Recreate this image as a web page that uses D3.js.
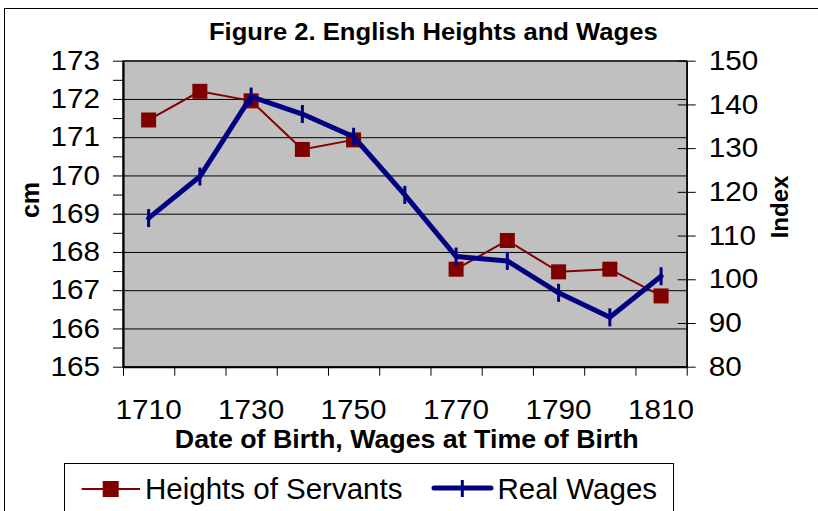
<!DOCTYPE html>
<html>
<head>
<meta charset="utf-8">
<script src="https://cdnjs.cloudflare.com/ajax/libs/d3/7.8.5/d3.min.js"></script>
<style>
    body { margin: 0; background: #fff; }
    svg text { font-family: "Liberation Sans", Arial, sans-serif; fill: #000; }
</style>
</head>
<body>
<div id="chart"></div>
<script>
/* *******************************************************
   Data
******************************************************* */
const years = ["1710", "1720", "1730", "1740", "1750", "1760", "1770", "1780", "1790", "1800", "1810"];
const yearLabels = ["1710", "1730", "1750", "1770", "1790", "1810"];
// heights of servants, cm (no value for 1760)
const heights = [171.45, 172.2, 171.95, 170.68, 170.93, null, 167.55, 168.3, 167.48, 167.55, 166.85];
// real wages, index
const wages = [114, 123.5, 141.8, 137.8, 132.6, 119.3, 105.2, 104.2, 96.9, 91.3, 100.7];
const cmTicks = [165, 166, 167, 168, 169, 170, 171, 172, 173];
const indexTicks = [80, 90, 100, 110, 120, 130, 140, 150];
const seriesNames = ["Heights of Servants", "Real Wages"];

/* *******************************************************
   Chart size / plot area
******************************************************* */
let width = 818;
let height = 511;
var plot = { left: 123, top: 60.7, right: 686.7, bottom: 366.7 };
var plotW = plot.right - plot.left;
var plotH = plot.bottom - plot.top;

const red = "#800000";
const navy = "#000080";
// text in the original is drawn a bit wider than Arial
const tickSx = 1.1;

let svg = d3.select("#chart").append("svg")
    .attr("width", width).attr("height", height);

// outer chart frame (runs off the right and bottom)
svg.append("rect")
    .attr("x", 4.5).attr("y", 8.5)
    .attr("width", 900).attr("height", 600)
    .attr("fill", "#fff").attr("stroke", "#000");

// scales
var xBand = d3.scaleBand().domain(years).range([plot.left, plot.right]).padding(0);
var xEdge = d3.scaleLinear().domain([0, years.length]).range([plot.left, plot.right]);
var yLeft = d3.scaleLinear().domain([d3.min(cmTicks), d3.max(cmTicks)]).range([plot.bottom, plot.top]);
var yRight = d3.scaleLinear().domain([d3.min(indexTicks), d3.max(indexTicks)]).range([plot.bottom, plot.top]);
var cx = d => xBand(d) + xBand.bandwidth() / 2;

// plot background
svg.append("rect")
    .attr("x", plot.left).attr("y", plot.top)
    .attr("width", plotW).attr("height", plotH)
    .attr("fill", "#c0c0c0").attr("stroke", "#222").attr("stroke-width", 1);

// gridlines
svg.append("g")
    .attr("transform", `translate(${plot.left},0)`)
    .call(d3.axisLeft(yLeft).tickValues(cmTicks).tickSize(-plotW).tickFormat(""))
    .call(g => g.select(".domain").remove())
    .call(g => g.selectAll(".tick line").attr("stroke", "#000").attr("stroke-width", 1));

/* =======================================================
    Axes
======================================================= */
// left axis: minor ticks each half cm, labels on whole cm
var halfTicks = d3.range(cmTicks[0], cmTicks[cmTicks.length - 1] + 0.01, 0.5);
svg.append("g")
    .attr("transform", `translate(${plot.left},0)`)
    .call(d3.axisLeft(yLeft).tickValues(halfTicks).tickSize(10).tickSizeOuter(0)
        .tickFormat(d => Number.isInteger(d) ? d : ""))
    .call(g => g.select(".domain").attr("stroke-width", 2.2))
    .call(g => g.selectAll(".tick line").attr("stroke", "#000"))
    .call(g => g.selectAll(".tick text")
        .attr("font-size", 27).attr("x", -23 / tickSx)
        .attr("transform", `scale(${tickSx},1)`));

// right axis: ticks cross the axis line
svg.append("g")
    .attr("transform", `translate(${plot.right},0)`)
    .call(d3.axisRight(yRight).tickValues(indexTicks).tickSizeOuter(0))
    .call(g => g.select(".domain").attr("stroke-width", 1.5))
    .call(g => g.selectAll(".tick line").attr("x1", -9).attr("x2", 9).attr("stroke", "#000"))
    .call(g => g.selectAll(".tick text")
        .attr("font-size", 27).attr("x", 22 / tickSx)
        .attr("transform", `scale(${tickSx},1)`));

// bottom axis: ticks on category edges
svg.append("g")
    .attr("transform", `translate(0,${plot.bottom})`)
    .call(d3.axisBottom(xEdge).tickValues(d3.range(0, years.length + 1)).tickSize(9)
        .tickSizeOuter(0).tickFormat(""))
    .call(g => g.select(".domain").attr("stroke-width", 2))
    .call(g => g.selectAll(".tick line").attr("stroke", "#000"));

// bottom labels on category centres, every other year
svg.append("g")
    .attr("transform", `translate(0,${plot.bottom})`)
    .call(d3.axisBottom(xBand).tickSize(0).tickFormat(d => yearLabels.includes(d) ? d : ""))
    .call(g => g.select(".domain").remove())
    .call(g => g.selectAll(".tick text")
        .attr("font-size", 27).attr("dy", 0).attr("y", 52.6)
        .attr("transform", `scale(${tickSx},1)`));

/* =======================================================
    Series
======================================================= */
var heightLine = d3.line()
    .defined(d => d[1] != null)
    .x(d => cx(d[0]))
    .y(d => yLeft(d[1]));

var heightData = years.map((y, i) => [y, heights[i]]);
svg.append("path")
    .datum(heightData)
    .attr("d", heightLine)
    .attr("fill", "none").attr("stroke", red).attr("stroke-width", 2);

svg.selectAll(".hmark")
    .data(heightData.filter(d => d[1] != null))
    .enter().append("rect")
    .attr("class", "hmark")
    .attr("x", d => cx(d[0]) - 7.5)
    .attr("y", d => yLeft(d[1]) - 7.5)
    .attr("width", 15).attr("height", 15)
    .attr("fill", red);

var wageLine = d3.line()
    .x(d => cx(d[0]))
    .y(d => yRight(d[1]));

var wageData = years.map((y, i) => [y, wages[i]]);
svg.append("path")
    .datum(wageData)
    .attr("d", wageLine)
    .attr("fill", "none").attr("stroke", navy).attr("stroke-width", 5)
    .attr("stroke-linejoin", "round").attr("stroke-linecap", "round");

svg.selectAll(".wmark")
    .data(wageData)
    .enter().append("line")
    .attr("class", "wmark")
    .attr("x1", d => cx(d[0])).attr("x2", d => cx(d[0]))
    .attr("y1", d => yRight(d[1]) - 9).attr("y2", d => yRight(d[1]) + 9)
    .attr("stroke", navy).attr("stroke-width", 3);

/* =======================================================
    Titles
======================================================= */
svg.append("text")
    .attr("transform", `translate(433.3,40) scale(1.09,1)`)
    .attr("text-anchor", "middle")
    .attr("font-size", 23.5).attr("font-weight", "bold")
    .text("Figure 2. English Heights and Wages");

svg.append("text")
    .attr("transform", `translate(406.7,448.3) scale(1.05,1)`)
    .attr("text-anchor", "middle")
    .attr("font-size", 25.5).attr("font-weight", "bold")
    .text("Date of Birth, Wages at Time of Birth");

svg.append("text")
    .attr("transform", "translate(39,200) rotate(-90)")
    .attr("text-anchor", "middle")
    .attr("font-size", 25).attr("font-weight", "bold")
    .text("cm");

svg.append("text")
    .attr("transform", "translate(788,207) rotate(-90)")
    .attr("text-anchor", "middle")
    .attr("font-size", 24).attr("font-weight", "bold")
    .text("Index");

/* =======================================================
    Legend
======================================================= */
var legend = svg.append("g");
legend.append("rect")
    .attr("x", 64.5).attr("y", 463.5)
    .attr("width", 609).attr("height", 80)
    .attr("fill", "#fff").attr("stroke", "#000");

// heights of servants
legend.append("line")
    .attr("x1", 81.7).attr("x2", 140).attr("y1", 489).attr("y2", 489)
    .attr("stroke", red).attr("stroke-width", 2);
legend.append("rect")
    .attr("x", 110.7 - 8).attr("y", 489 - 8).attr("width", 16).attr("height", 16)
    .attr("fill", red);
legend.append("text")
    .attr("x", 145).attr("y", 499)
    .attr("font-size", 29.5)
    .text(seriesNames[0]);

// real wages
legend.append("line")
    .attr("x1", 434).attr("x2", 491).attr("y1", 488).attr("y2", 488)
    .attr("stroke", navy).attr("stroke-width", 5).attr("stroke-linecap", "round");
legend.append("line")
    .attr("x1", 462.3).attr("x2", 462.3).attr("y1", 480).attr("y2", 497)
    .attr("stroke", navy).attr("stroke-width", 3);
legend.append("text")
    .attr("x", 497.5).attr("y", 499)
    .attr("font-size", 29.5)
    .text(seriesNames[1]);
</script>
</body>
</html>
